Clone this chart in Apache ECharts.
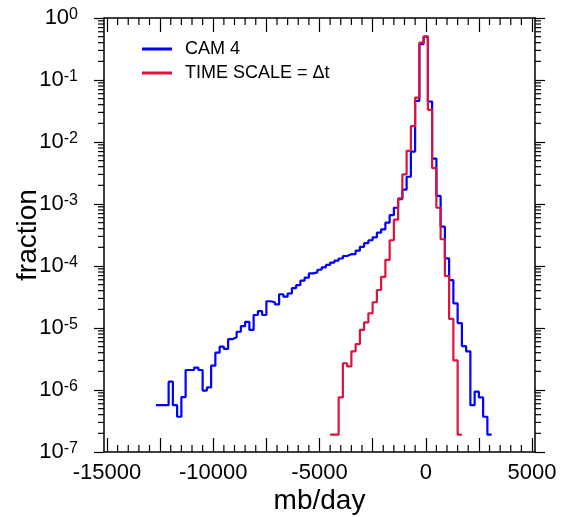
<!DOCTYPE html>
<html>
<head>
<meta charset="utf-8">
<script src="https://cdn.jsdelivr.net/npm/echarts@6/dist/echarts.min.js"></script>
<style>
  html, body { margin: 0; padding: 0; background: #fff; }
  #chart { width: 564px; height: 517px; }
</style>
</head>
<body>
<div id="chart"></div>
<script>
// histogram bins (mb/day, bin centres) and fractions
const binWidth = 200;

const camCenters = [
  -12600, -12400, -12200, -12000, -11800, -11600, -11400, -11200, -11000, -10800,
  -10600, -10400, -10200, -10000, -9800, -9600, -9400, -9200, -9000, -8800,
  -8600, -8400, -8200, -8000, -7800, -7600, -7400, -7200, -7000, -6800,
  -6600, -6400, -6200, -6000, -5800, -5600, -5400, -5200, -5000, -4800,
  -4600, -4400, -4200, -4000, -3800, -3600, -3400, -3200, -3000, -2800,
  -2600, -2400, -2200, -2000, -1800, -1600, -1400, -1200, -1000, -800,
  -600, -400, -200, 0, 200, 400, 600, 800, 1000, 1200,
  1400, 1600, 1800, 2000, 2200, 2400, 2600, 2800, 3000
];
const camFraction = [
  5.7e-7, 5.7e-7, 5.7e-7, 1.36e-6, 5.7e-7, 3.7e-7, 7.7e-7, 2.1e-6, 2.1e-6, 2.3e-6,
  2.1e-6, 9.8e-7, 1.1e-6, 2.47e-6, 4.0e-6, 5.0e-6, 4.6e-6, 6.6e-6, 7.1e-6, 8.7e-6,
  1.07e-5, 1.26e-5, 9.3e-6, 1.62e-5, 1.87e-5, 1.62e-5, 2.7e-5, 2.6e-5, 2.4e-5, 3.5e-5,
  3.2e-5, 3.6e-5, 4.4e-5, 4.9e-5, 5.8e-5, 6.5e-5, 7.6e-5, 7.9e-5, 8.7e-5, 9.5e-5,
  1.04e-4, 1.13e-4, 1.22e-4, 1.32e-4, 1.45e-4, 1.55e-4, 1.55e-4, 1.77e-4, 2.04e-4, 2.33e-4,
  2.6e-4, 2.9e-4, 3.45e-4, 3.9e-4, 5.0e-4, 6.6e-4, 8.7e-4, 1.2e-3, 1.7e-3, 2.75e-3,
  7.0e-3, 4.6e-2, 0.38, 0.5, 4.5e-2, 5.4e-3, 1.35e-3, 4.3e-4, 1.33e-4, 5.9e-5,
  2.5e-5, 1.2e-5, 5.1e-6, 4.2e-6, 5.7e-7, 9.4e-7, 7.6e-7, 3.7e-7, 1.9e-7
];

const dtCenters = [
  -4400, -4200, -4000, -3800, -3600, -3400, -3200, -3000, -2800, -2600,
  -2400, -2200, -2000, -1800, -1600, -1400, -1200, -1000, -800, -600,
  -400, -200, 0, 200, 400, 600, 800, 1000, 1200, 1400, 1600
];
const dtFraction = [
  1.9e-7, 1.9e-7, 7.6e-7, 2.7e-6, 2.4e-6, 4.2e-6, 5.5e-6, 9.3e-6, 1.23e-5, 1.73e-5,
  2.6e-5, 4.1e-5, 6.7e-5, 1.26e-4, 2.6e-4, 5.6e-4, 1.23e-3, 3.0e-3, 7.2e-3, 1.8e-2,
  5.2e-2, 0.40, 0.5, 3.3e-2, 3.8e-3, 8.7e-4, 2.7e-4, 6.9e-5, 1.4e-5, 3.0e-6, 1.9e-7
];

const xMajorTicks = [-15000, -12500, -10000, -7500, -5000, -2500, 0, 2500, 5000];
const xLabelTicks = [-15000, -10000, -5000, 0, 5000];
const xMin = -15141, xMax = 5141;
const yMin = 1e-7, yMax = 1;

// minor ticks: every 500 on x, 2..9 per decade on y
const xMinorTicks = [];
for (let v = -15000; v <= 5000; v += 500) {
  if (v % 2500 !== 0) xMinorTicks.push(v);
}
const yMinorTicks = [];
for (let d = -7; d < 0; d++) {
  for (let m = 2; m <= 9; m++) yMinorTicks.push(m * Math.pow(10, d));
}

function toSteps(centers, values) {
  const pts = [];
  centers.forEach((c, i) => {
    pts.push([c - binWidth / 2, values[i]]);
    pts.push([c + binWidth / 2, values[i]]);
  });
  return pts;
}

const axisLine = { show: true, onZero: false, lineStyle: { color: '#000', width: 1.5 } };
const tickStyle = { color: '#000', width: 1.2 };
const font = 'Liberation Sans';

const chart = echarts.init(document.getElementById('chart'));

const option = {
  animation: false,
  textStyle: { fontFamily: font },
  grid: { left: 104, right: 29, top: 18, bottom: 65, containLabel: false, outerBoundsMode: 'none' },
  legend: {
    data: ['CAM 4', 'TIME SCALE = \u0394t'],
    orient: 'vertical',
    left: 142,
    top: 37,
    icon: 'rect',
    itemWidth: 30,
    itemHeight: 3,
    itemGap: 0,
    padding: 0,
    textStyle: { fontSize: 18, lineHeight: 24, color: '#000', fontFamily: font, padding: [0, 0, 0, 8] }
  },
  xAxis: [
    {
      type: 'value', position: 'bottom', min: xMin, max: xMax,
      name: 'mb/day', nameLocation: 'middle', nameGap: 35, nameMoveOverlap: false,
      nameTextStyle: { fontSize: 28, color: '#000', fontFamily: font },
      axisLine: axisLine,
      axisTick: { show: true, inside: true, length: 14, lineStyle: tickStyle, customValues: xMajorTicks },
      axisLabel: {
        fontSize: 22, color: '#000', margin: 10, fontFamily: font,
        customValues: xLabelTicks,
        formatter: (v) => String(v)
      },
      splitLine: { show: false }
    },
    {
      type: 'value', position: 'top', min: xMin, max: xMax,
      axisLine: axisLine,
      axisTick: { show: true, inside: true, length: 14, lineStyle: tickStyle, customValues: xMajorTicks },
      axisLabel: { show: false },
      splitLine: { show: false }
    }
  ],
  yAxis: [
    {
      type: 'log', logBase: 10, position: 'left', min: yMin, max: yMax,
      name: 'fraction', nameLocation: 'middle', nameGap: 62, nameMoveOverlap: false,
      nameTextStyle: { fontSize: 28, color: '#000', fontFamily: font },
      axisLine: axisLine,
      axisTick: { show: true, inside: false, length: 10, lineStyle: tickStyle },
      axisLabel: {
        margin: 26,
        formatter: (v) => '{b|10}{s|' + Math.round(Math.log10(v)) + '}',
        rich: {
          b: { fontSize: 22, lineHeight: 22, color: '#000', fontFamily: font, verticalAlign: 'middle', padding: [7, 0, 7, 0] },
          s: { fontSize: 16, lineHeight: 16, color: '#000', fontFamily: font, verticalAlign: 'top' }
        }
      },
      splitLine: { show: false }
    },
    {
      type: 'log', logBase: 10, position: 'right', min: yMin, max: yMax,
      axisLine: axisLine,
      axisTick: { show: true, inside: false, length: 10, lineStyle: tickStyle },
      axisLabel: { show: false },
      splitLine: { show: false }
    }
  ],
  series: [
    {
      name: 'CAM 4',
      type: 'line',
      data: toSteps(camCenters, camFraction),
      symbol: 'none',
      color: '#0000ff',
      lineStyle: { color: '#0000ff', width: 2.2 },
      z: 3
    },
    {
      name: 'TIME SCALE = \u0394t',
      type: 'line',
      data: toSteps(dtCenters, dtFraction),
      symbol: 'none',
      color: '#dc143c',
      lineStyle: { color: '#dc143c', width: 2.2 },
      z: 4
    },
    {
      name: 'xMinor',
      type: 'custom',
      data: xMinorTicks.map((v) => [v, 1]),
      silent: true,
      z: 5,
      renderItem: (params, api) => {
        const v = api.value(0);
        const b = api.coord([v, yMin]);
        const t = api.coord([v, yMax]);
        const st = { stroke: '#000', lineWidth: 1.2 };
        return {
          type: 'group',
          children: [
            { type: 'line', shape: { x1: b[0], y1: b[1], x2: b[0], y2: b[1] - 7 }, style: st },
            { type: 'line', shape: { x1: t[0], y1: t[1], x2: t[0], y2: t[1] + 7 }, style: st }
          ]
        };
      }
    },
    {
      name: 'yMinor',
      type: 'custom',
      data: yMinorTicks.map((v) => [0, v]),
      silent: true,
      z: 5,
      renderItem: (params, api) => {
        const v = api.value(1);
        const l = api.coord([xMin, v]);
        const r = api.coord([xMax, v]);
        const st = { stroke: '#000', lineWidth: 1.2 };
        return {
          type: 'group',
          children: [
            { type: 'line', shape: { x1: l[0] - 6, y1: l[1], x2: l[0], y2: l[1] }, style: st },
            { type: 'line', shape: { x1: r[0], y1: r[1], x2: r[0] + 6, y2: r[1] }, style: st }
          ]
        };
      }
    }
  ]
};

chart.setOption(option);
</script>
</body>
</html>
